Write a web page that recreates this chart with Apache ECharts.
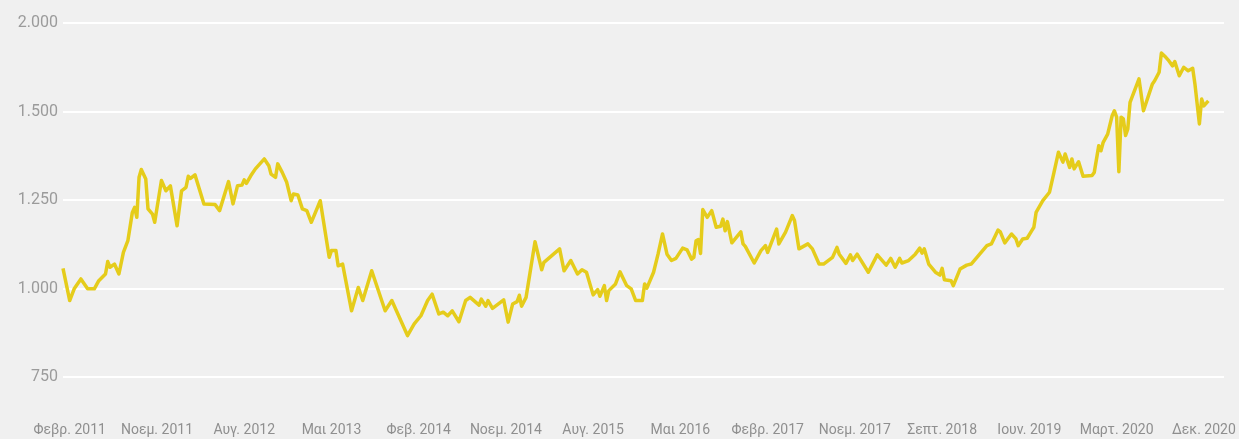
<!DOCTYPE html>
<html>
<head>
<meta charset="utf-8">
<style>
  html, body { margin: 0; padding: 0; background: #f0f0f0; }
  #chart { width: 1239px; height: 439px; }
</style>
<script src="https://cdn.jsdelivr.net/npm/echarts@6/dist/echarts.min.js"></script>
</head>
<body>
<div id="chart"></div>
<script>
// Gold price (EUR per ounce), weekly observations; week number counted from the first observation
const weeks = [
  0, 3, 5, 8, 11, 14, 16, 19, 20, 21, 23, 25, 27, 29, 31, 32, 33, 34, 35, 37,
  38, 40, 41, 44, 46, 48, 51, 53, 55, 56, 57, 59, 63, 68, 70, 74, 76, 78, 80, 81,
  82, 84, 86, 90, 92, 93, 95, 96, 98, 100, 102, 103, 105, 107, 109, 111, 115, 119, 120, 122,
  123, 125, 129, 132, 134, 138, 144, 147, 154, 157, 160, 163, 165, 168, 170, 172, 174, 177, 180, 182,
  186, 187, 189, 190, 192, 197, 199, 201, 203, 204, 205, 207, 211, 214, 215, 222, 224, 227, 230, 232,
  234, 237, 239, 240, 242, 243, 244, 247, 249, 252, 254, 256, 259, 260, 261, 264, 266, 268, 270, 272,
  274, 277, 279, 281, 282, 283, 284, 285, 286, 288, 290, 292, 294, 295, 296, 297, 299, 303, 304, 305,
  309, 312, 314, 315, 319, 320, 323, 326, 327, 329, 333, 335, 338, 340, 344, 346, 347, 350, 352, 353,
  355, 360, 364, 368, 370, 372, 374, 375, 378, 381, 383, 384, 385, 387, 390, 392, 393, 394, 397, 398,
  401, 404, 406, 413, 415, 418, 419, 421, 424, 426, 427, 429, 431, 433, 434, 435, 438, 441, 443, 445,
  447, 448, 450, 451, 452, 454, 456, 460, 461, 463, 464, 465, 467, 469, 470, 471, 472, 473, 474, 475,
  476, 477, 481, 483, 487, 488, 490, 491, 493, 494, 496, 497, 499, 501, 503, 505, 506, 508, 509, 510,
  512
];
const prices = [
  1057, 966, 999, 1027, 999, 999, 1022, 1041, 1076, 1060, 1069, 1041, 1102, 1135, 1215, 1229, 1201, 1314, 1336, 1309,
  1225, 1210, 1187, 1305, 1276, 1290, 1177, 1276, 1286, 1317, 1311, 1321, 1239, 1237, 1220, 1302, 1239, 1290, 1292, 1307,
  1297, 1319, 1338, 1366, 1347, 1323, 1314, 1352, 1328, 1300, 1248, 1267, 1264, 1225, 1220, 1187, 1248, 1088, 1107, 1107,
  1064, 1069, 937, 1003, 966, 1050, 937, 966, 867, 900, 923, 966, 984, 928, 933, 923, 937, 906, 966, 975,
  953, 970, 950, 966, 944, 968, 905, 956, 963, 981, 950, 975, 1132, 1053, 1074, 1112, 1050, 1079, 1041, 1053,
  1046, 982, 997, 978, 1008, 966, 994, 1013, 1047, 1008, 999, 966, 966, 1013, 1001, 1046, 1097, 1154, 1097, 1079,
  1085, 1114, 1109, 1083, 1088, 1135, 1138, 1099, 1223, 1201, 1220, 1173, 1176, 1196, 1163, 1189, 1129, 1160, 1126, 1119,
  1072, 1107, 1121, 1102, 1168, 1126, 1159, 1206, 1192, 1112, 1126, 1112, 1069, 1069, 1088, 1116, 1097, 1071, 1095, 1079,
  1097, 1046, 1095, 1066, 1085, 1060, 1085, 1072, 1079, 1097, 1114, 1100, 1112, 1069, 1046, 1038, 1057, 1025, 1022, 1008,
  1055, 1066, 1069, 1121, 1126, 1165, 1160, 1129, 1154, 1140, 1121, 1140, 1142, 1163, 1173, 1215, 1248, 1272, 1328, 1385,
  1357, 1380, 1342, 1366, 1338, 1358, 1317, 1319, 1328, 1403, 1389, 1413, 1436, 1488, 1502, 1484, 1330, 1484, 1479, 1432,
  1451, 1526, 1592, 1502, 1578, 1587, 1611, 1665, 1653, 1646, 1629, 1641, 1601, 1625, 1615, 1622, 1578, 1465, 1535, 1516,
  1530
];

// Date labels along the bottom and the weeks they sit at
const dateLabels = [
  'Φεβρ. 2011', 'Νοεμ. 2011', 'Αυγ. 2012', 'Μαι 2013', 'Φεβ. 2014', 'Νοεμ. 2014', 'Αυγ. 2015',
  'Μαι 2016', 'Φεβρ. 2017', 'Νοεμ. 2017', 'Σεπτ. 2018', 'Ιουν. 2019', 'Μαρτ. 2020', 'Δεκ. 2020'
];
const dateLabelWeeks = [3, 42, 81, 120, 159, 198, 237, 276, 315, 354, 393, 432, 471, 510];

// Value axis gridlines and the text printed beside them
const yTickValues = [750, 1000, 1250, 1500, 1750];
const yTickLabels = ['750', '1.000', '1.250', '1.500', '2.000'];

const chart = echarts.init(document.getElementById('chart'), null, { renderer: 'canvas' });

const seriesData = weeks.map((w, i) => [w, prices[i]]);

chart.setOption({
  backgroundColor: '#f0f0f0',
  animation: false,
  grid: { left: 63, right: 15, top: 23, bottom: 62, containLabel: false },
  xAxis: {
    type: 'value',
    min: 0,
    max: 519,
    axisLine: { show: false },
    axisTick: { show: false },
    splitLine: { show: false },
    axisLabel: {
      customValues: dateLabelWeeks,
      margin: 46,
      color: '#8f8f8f',
      fontFamily: 'Roboto',
      fontSize: 14,
      formatter: (v) => {
        const k = dateLabelWeeks.indexOf(Math.round(v));
        return k >= 0 ? dateLabels[k] : '';
      }
    }
  },
  yAxis: {
    type: 'value',
    min: 750,
    max: 1750,
    interval: 250,
    axisLine: { show: false },
    axisTick: { show: false },
    splitLine: { show: true, lineStyle: { color: '#ffffff', width: 2 } },
    axisLabel: {
      margin: 5,
      color: '#9b9b9b',
      fontFamily: 'Roboto',
      fontSize: 16,
      formatter: (v) => {
        const k = yTickValues.indexOf(v);
        return k >= 0 ? yTickLabels[k] : '';
      }
    }
  },
  series: [{
    type: 'line',
    data: seriesData,
    showSymbol: false,
    symbol: 'none',
    lineStyle: { color: '#e5cc1b', width: 3.5, join: 'round' },
    itemStyle: { color: '#e5cc1b' }
  }]
});
</script>
</body>
</html>
